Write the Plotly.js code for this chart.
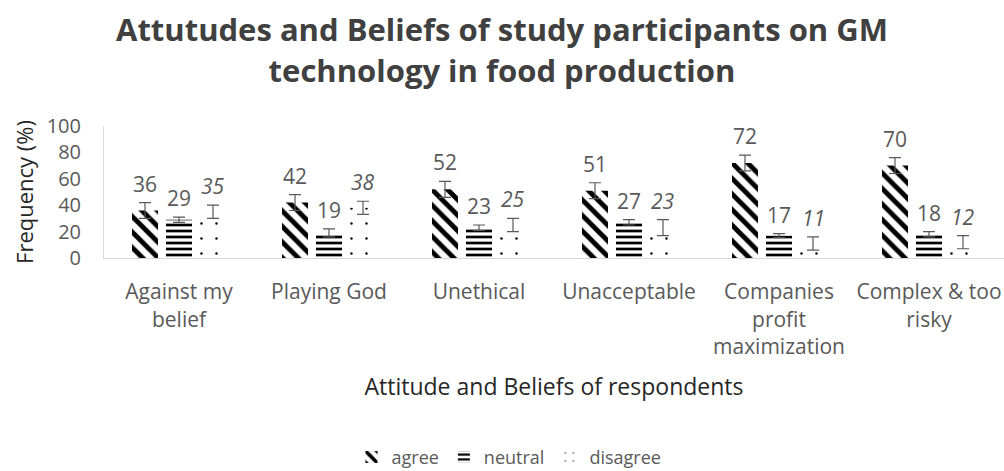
<!DOCTYPE html>
<html>
<head>
<meta charset="utf-8">
<script src="https://cdn.plot.ly/plotly-3.0.1.min.js"></script>
<style>html,body{margin:0;padding:0;background:#fff;}#chart{width:1004px;height:471px;}</style>
</head>
<body>
<div id="chart"></div>
<script>
const categories = ["Against my<br>belief", "Playing God", "Unethical", "Unacceptable", "Companies<br>profit<br>maximization", "Complex & too<br>risky"];
const seriesNames = ["agree", "neutral", "disagree"];
const agree = [36, 42, 52, 51, 72, 70];
const neutral = [29, 19, 23, 27, 17, 18];
const disagree = [35, 38, 25, 23, 11, 12];
const agreeErr = [6, 6, 6, 6, 6, 6];
const neutralErr = [2, 3, 2, 2, 1.5, 2];
const disagreeErr = [5, 5, 5, 6, 5, 5];

const FONT = "'Open Sans', Lato, sans-serif";
const values = [agree, neutral, disagree];
const errs = [agreeErr, neutralErr, disagreeErr];
const patterns = [
  {shape: "\\", fgcolor: "#000", bgcolor: "#fff", size: 11, solidity: 0.45},
  {shape: "-", fgcolor: "#000", bgcolor: "#fff", size: 6, solidity: 0.45},
  {shape: ".", fgcolor: "#000", bgcolor: "#fff", size: 15, solidity: 0.02}
];

const traces = values.map((v, i) => ({
  type: "bar",
  name: seriesNames[i],
  x: categories,
  y: v,
  marker: {color: "#fff", line: {width: 0}, pattern: patterns[i]},
  error_y: {type: "data", array: errs[i], visible: true, color: "#595959", thickness: 1.2, width: 6}
}));

const shifts = [-34, 0, 34];
const annotations = [];
values.forEach((v, i) => {
  v.forEach((val, j) => {
    annotations.push({
      x: categories[j], y: val + errs[i][j], xref: "x", yref: "y",
      text: String(val), showarrow: false, xshift: shifts[i], yanchor: "bottom", yshift: 3,
      font: {family: FONT, size: 21, color: "#595959", style: i === 2 ? "italic" : "normal"}
    });
  });
});

const layout = {
  width: 1004, height: 471,
  paper_bgcolor: "#fff", plot_bgcolor: "#fff",
  margin: {l: 104, r: 0, t: 126, b: 213, autoexpand: false},
  title: {
    text: "<b>Attutudes and Beliefs of study participants on GM<br>technology in food production</b>",
    font: {family: FONT, size: 31, color: "#404040"},
    x: 0.5, xanchor: "center", y: 0.912, yanchor: "middle"
  },
  barmode: "group", bargap: 0.32, bargroupgap: 0.235,
  showlegend: true,
  legend: {
    orientation: "h", x: 0.45, xanchor: "center", y: -1.51, yanchor: "middle",
    font: {family: FONT, size: 18, color: "#595959"}, traceorder: "normal", itemwidth: 30
  },
  xaxis: {
    type: "category", showline: true, linecolor: "#d9d9d9", linewidth: 1,
    ticks: "outside", ticklen: 15, tickcolor: "rgba(0,0,0,0)",
    tickfont: {family: FONT, size: 21, color: "#595959"},
    title: {text: "Attitude and Beliefs of respondents", font: {family: FONT, size: 23, color: "#262626"}, standoff: 20},
    showgrid: false
  },
  yaxis: {
    range: [0, 100], dtick: 20, showline: true, linecolor: "#d9d9d9", linewidth: 1,
    ticks: "outside", ticklen: 18, tickcolor: "rgba(0,0,0,0)", showgrid: false, zeroline: false,
    tickfont: {family: FONT, size: 20, color: "#595959"},
    title: {text: "Frequency (%)", font: {family: FONT, size: 22, color: "#262626"}, standoff: 6}
  },
  annotations: annotations
};

Plotly.newPlot("chart", traces, layout, {displayModeBar: false, staticPlot: true});
</script>
</body>
</html>
